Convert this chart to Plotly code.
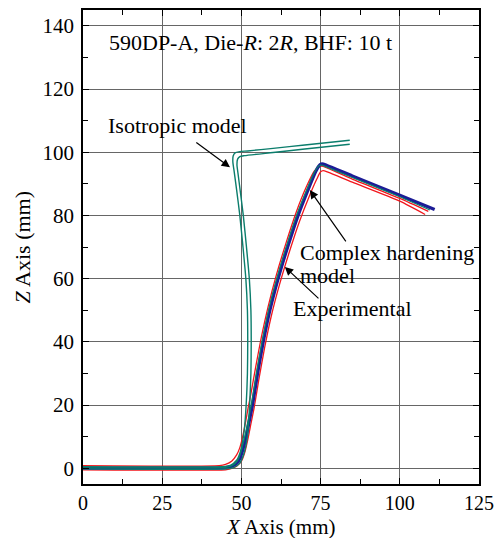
import plotly.graph_objects as go

# Experimental (blue)
exp_x = [0, 40, 45, 47, 48.5, 49.5, 50.5, 51.5, 52.5, 53.5, 55.1, 56.9, 59.0, 61.6, 64.6, 67.9, 71, 73.5, 74.8, 75.5, 77, 85, 100, 111]
exp_z = [0, 0, 0.2, 0.6, 1.5, 3, 6, 10, 15, 20, 30, 40, 50, 60, 70, 80, 88, 94, 96, 96.3, 95.8, 92.5, 86.4, 81.9]

# Complex hardening model (teal, close to experimental)
chm_x = [0, 40, 45, 47, 48.3, 49.3, 50.2, 51.2, 52.2, 53.2, 54.8, 56.6, 58.7, 61.3, 64.3, 67.6, 70.7, 73.2, 74.6, 75.4, 77, 85, 100, 109.5]
chm_z = [0.1, 0.1, 0.3, 0.8, 1.8, 3.5, 6.5, 10.5, 15.5, 20.5, 30.5, 40.5, 50.5, 60.5, 70.5, 80.5, 88.3, 94, 95.8, 95.9, 95.3, 92, 85.9, 81.7]

# Red double lines
red_a_x = [0, 43, 45, 47, 48.5, 49.5, 50.4, 51.3, 52.1, 53, 54.5, 56.3, 58.4, 61.0, 64.0, 67.3, 70.4, 73, 74.5, 75.4, 77, 85, 100, 109]
red_a_z = [0.8, 0.8, 1.2, 2.3, 4.2, 6.5, 10, 14.5, 19, 23.5, 32, 41.5, 51, 61, 71, 81, 88.8, 94, 95.4, 95.6, 95, 91.5, 85.4, 81.3]
red_b_x = [0, 45, 46.5, 48.5, 50, 51, 52, 53, 54, 55.5, 57.3, 59.4, 62.0, 65.0, 68.3, 71.4, 73.8, 75, 75.8, 77.5, 85, 100, 108]
red_b_z = [-0.5, -0.5, -0.2, 0.6, 2.2, 4.8, 9, 14, 19, 28, 38, 48, 58, 68, 78, 86, 91.5, 93.8, 94.2, 93.6, 90.5, 84.5, 80.3]

# Isotropic model (teal double lines)
iso_a_x = [0, 44, 46.5, 48.5, 49.6, 50.3, 50.9, 51.5, 51.9, 52, 51.9, 51.4, 50.5, 49.5, 48.5, 47.7, 47.3, 47.4, 48, 49.5, 52, 60, 70, 84.2]
iso_a_z = [0.5, 0.5, 0.9, 2.5, 5, 8, 12, 20, 30, 40, 50, 60, 70, 80, 88, 94, 97, 98.8, 99.8, 100.2, 100.4, 101.2, 102.3, 103.8]
iso_b_x = [0, 45, 47.5, 49.5, 50.6, 51.4, 52, 52.6, 53, 53.1, 53, 52.5, 51.6, 50.6, 49.6, 48.9, 48.6, 48.8, 49.5, 51, 60, 70, 84.2]
iso_b_z = [-0.2, -0.2, 0.2, 1.6, 4, 7, 11, 20, 30, 40, 50, 60, 70, 80, 88, 93.5, 96, 97.8, 98.6, 98.9, 99.9, 101, 102.5]

FONT = "Liberation Serif"
BLUE = "#1c1c96"
TEAL = "#0b7d6c"
RED = "#f2161c"

fig = go.Figure()
for xs, zs in [(red_a_x, red_a_z), (red_b_x, red_b_z)]:
    fig.add_trace(go.Scatter(x=xs, y=zs, mode="lines", line=dict(color=RED, width=1.3, shape="spline", smoothing=0.6), showlegend=False))
fig.add_trace(go.Scatter(x=exp_x, y=exp_z, mode="lines", line=dict(color=BLUE, width=3.2, shape="spline", smoothing=0.6), showlegend=False))
fig.add_trace(go.Scatter(x=chm_x, y=chm_z, mode="lines", line=dict(color=TEAL, width=1.3, shape="spline", smoothing=0.6), showlegend=False))
for xs, zs in [(iso_a_x, iso_a_z), (iso_b_x, iso_b_z)]:
    fig.add_trace(go.Scatter(x=xs, y=zs, mode="lines", line=dict(color=TEAL, width=1.4, shape="spline", smoothing=0.6), showlegend=False))

axis_common = dict(
    showgrid=True, gridcolor="#666666", gridwidth=1,
    showline=True, linecolor="black", linewidth=1.5, mirror="allticks",
    ticks="inside", ticklen=6, tickcolor="black", tickwidth=1,
    zeroline=False, automargin=False,
)
fig.update_xaxes(range=[0, 125], tickmode="array", tickvals=[0, 25, 50, 75, 100, 125],
                 minor=dict(tickvals=[12.5, 37.5, 62.5, 87.5, 112.5], ticks="inside", ticklen=5, tickcolor="black", showgrid=False),
                 tickfont=dict(family=FONT, size=20, color="black"),
                 **axis_common)
fig.update_yaxes(range=[-5, 145], tickmode="array", tickvals=[0, 20, 40, 60, 80, 100, 120, 140],
                 minor=dict(tickvals=[10, 30, 50, 70, 90, 110, 130], ticks="inside", ticklen=5, tickcolor="black", showgrid=False),
                 ticklabelstandoff=3, tickfont=dict(family=FONT, size=21, color="black"),
                 **axis_common)

# axis titles
fig.add_annotation(xref="paper", yref="paper", x=0.5, y=-0.09, text="<i>X</i> Axis (mm)",
                   showarrow=False, xanchor="center", yanchor="middle", borderpad=0,
                   font=dict(family=FONT, size=21, color="black"))
fig.add_annotation(xref="paper", yref="paper", x=-0.153, y=0.5, text="<i>Z</i> Axis (mm)",
                   showarrow=False, xanchor="center", yanchor="middle", textangle=-90, borderpad=0,
                   font=dict(family=FONT, size=22, color="black"))

tf = dict(family=FONT, size=22, color="black")
texts = [
    ("590DP-A, Die-<i>R</i>: 2<i>R</i>, BHF: 10 t", 7.6, 134.7),
    ("Isotropic model", 7.3, 108.5),
    ("Complex hardening", 67.8, 68.3),
    ("model", 67.8, 61.0),
    ("Experimental", 65.6, 50.5),
]
for t, x, y in texts:
    fig.add_annotation(x=x, y=y, text=t, showarrow=False, xanchor="left", yanchor="middle", font=tf)

arrows = [
    ((46.4, 95.2), (35.3, 103.4)),
    ((71.6, 88.0), (83.3, 71.3)),
    ((63.7, 63.7), (74.8, 53.3)),
]
for (hx, hy), (tx, ty) in arrows:
    fig.add_annotation(x=hx, y=hy, ax=tx, ay=ty, axref="x", ayref="y", xref="x", yref="y",
                       text="", showarrow=True, arrowhead=2, arrowsize=1.4, arrowwidth=1.2, arrowcolor="black")

# the page body adds an 8px margin, so the figure is sized to fit inside it
fig.update_layout(
    width=494, height=530,
    margin=dict(l=75, r=23, t=2, b=54),
    paper_bgcolor="white", plot_bgcolor="white",
    font=dict(family=FONT, color="black"),
)
fig.write_html("out.html")
